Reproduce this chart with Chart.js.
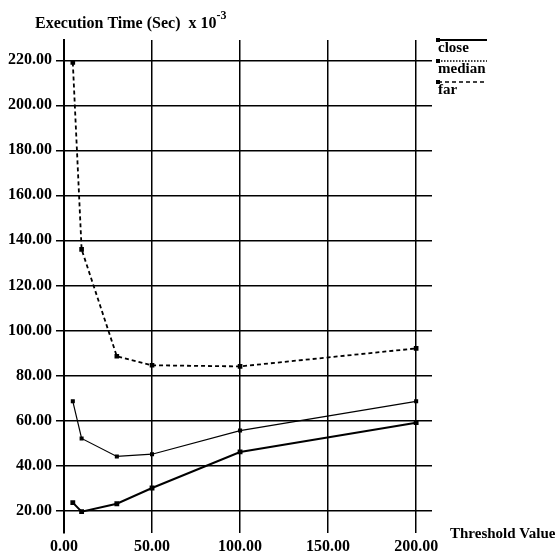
<!DOCTYPE html>
<html lang="en">
<head>
    <meta charset="UTF-8">
    <title>Execution Time vs Threshold Value</title>
    <style>
        body {
            margin: 0;
            background: white;
        }
        #myChart {
            display: block;
        }
    </style>
    <script src="https://cdn.jsdelivr.net/npm/chart.js"></script>
</head>
<body>
    <canvas id="myChart" width="558" height="558"></canvas>

    <script>
        // data
        const thresholds = [5, 10, 30, 50, 100, 200];
        const closeTimes = [23.5, 19.5, 23, 30, 46, 59];
        const medianTimes = [68.5, 52, 44, 45, 55.5, 68.5];
        const farTimes = [219, 136, 88.5, 84.5, 84, 92];

        const xTicks = [0, 50, 100, 150, 200];
        const yTicks = [20, 40, 60, 80, 100, 120, 140, 160, 180, 200, 220];

        const serif = '"Liberation Serif", "DejaVu Serif", serif';

        const toPoints = (ys) => thresholds.map((x, i) => ({ x: x, y: ys[i] }));

        // title, axis label and legend drawn by hand
        const decorations = {
            id: 'decorations',
            afterDraw(chart) {
                const ctx = chart.ctx;
                ctx.save();
                ctx.fillStyle = '#000';
                ctx.textBaseline = 'alphabetic';
                ctx.textAlign = 'left';

                // y title with superscript
                ctx.font = 'bold 16px ' + serif;
                const t = 'Execution Time (Sec)  x 10';
                ctx.fillText(t, 35, 28);
                const w = ctx.measureText(t).width;
                ctx.font = 'bold 12px ' + serif;
                ctx.fillText('-3', 35 + w, 19);

                // x title
                ctx.font = 'bold 15px ' + serif;
                ctx.fillText('Threshold Value', 450, 538);

                // legend
                const items = [
                    { label: 'close', y: 40, dash: [], width: 2 },
                    { label: 'median', y: 61, dash: [1.5, 1.5], width: 1.5 },
                    { label: 'far', y: 82, dash: [4, 3], width: 1.5 }
                ];
                items.forEach(it => {
                    ctx.strokeStyle = '#000';
                    ctx.lineWidth = it.width;
                    ctx.setLineDash(it.dash);
                    ctx.beginPath();
                    ctx.moveTo(438, it.y);
                    ctx.lineTo(487, it.y);
                    ctx.stroke();
                    ctx.setLineDash([]);
                    ctx.fillRect(436, it.y - 2, 4, 4);
                    ctx.font = 'bold 15px ' + serif;
                    ctx.fillText(it.label, 438, it.y + 12);
                });
                ctx.restore();
            }
        };

        const ctx = document.getElementById('myChart').getContext('2d');
        const myChart = new Chart(ctx, {
            type: 'line',
            data: {
                datasets: [
                    {
                        label: 'close',
                        data: toPoints(closeTimes),
                        borderColor: '#000',
                        backgroundColor: '#000',
                        borderWidth: 2,
                        pointStyle: 'rect',
                        pointRadius: 2
                    },
                    {
                        label: 'median',
                        data: toPoints(medianTimes),
                        borderColor: '#000',
                        backgroundColor: '#000',
                        borderWidth: 1.2,
                        pointStyle: 'rect',
                        pointRadius: 2
                    },
                    {
                        label: 'far',
                        data: toPoints(farTimes),
                        borderColor: '#000',
                        backgroundColor: '#000',
                        borderWidth: 1.8,
                        borderDash: [4, 3],
                        pointStyle: 'rect',
                        pointRadius: 2
                    }
                ]
            },
            options: {
                responsive: false,
                animation: false,
                layout: {
                    padding: { top: 40, right: 126, left: 0, bottom: 0 }
                },
                plugins: {
                    legend: { display: false },
                    tooltip: { enabled: false }
                },
                scales: {
                    x: {
                        type: 'linear',
                        min: 0,
                        max: 209,
                        afterBuildTicks: (s) => { s.ticks = xTicks.map(v => ({ value: v })); },
                        afterFit: (s) => { s.height = 25; },
                        border: { display: false },
                        grid: { color: '#000', lineWidth: 1.5, drawTicks: false },
                        ticks: {
                            color: '#000',
                            padding: 4,
                            maxRotation: 0,
                            font: { family: serif, size: 16, weight: 'bold' },
                            callback: (v) => Number(v).toFixed(2)
                        }
                    },
                    y: {
                        min: 10,
                        max: 229,
                        afterBuildTicks: (s) => { s.ticks = yTicks.map(v => ({ value: v })); },
                        afterFit: (s) => { s.width = 64; },
                        border: { display: true, color: '#000', width: 2 },
                        grid: { color: '#000', lineWidth: 1.5, tickLength: 8 },
                        ticks: {
                            color: '#000',
                            padding: 4,
                            font: { family: serif, size: 16, weight: 'bold' },
                            callback: (v) => Number(v).toFixed(2)
                        }
                    }
                }
            },
            plugins: [decorations]
        });
    </script>
</body>
</html>
